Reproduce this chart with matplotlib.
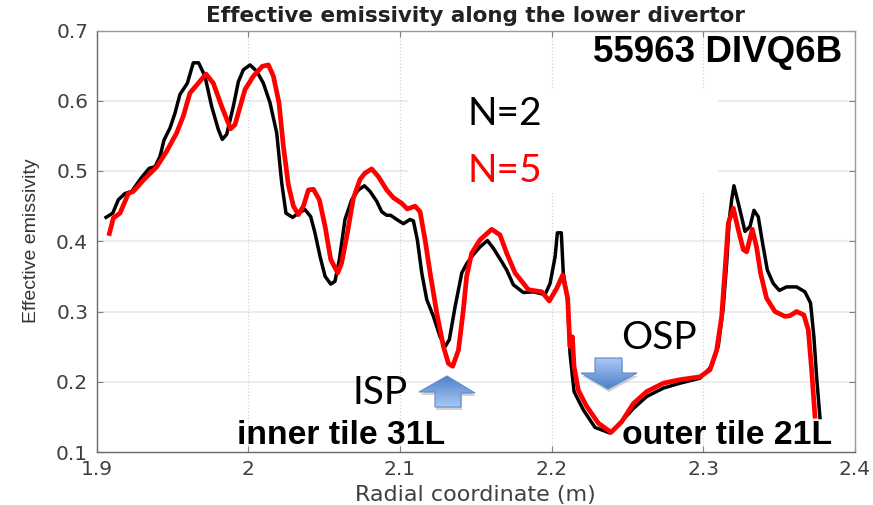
import matplotlib
matplotlib.use('Agg')
import matplotlib.pyplot as plt
from matplotlib.patches import Polygon, Rectangle
from matplotlib.transforms import Affine2D
import numpy as np

# N=2 curve
x_n2 = [1.9063, 1.9107, 1.9144, 1.9188, 1.9232, 1.9298, 1.9348, 1.9386, 1.9419, 1.9445, 1.9484,
        1.9517, 1.955, 1.9599, 1.9638, 1.9673, 1.9715, 1.9759, 1.9803, 1.9829, 1.9858, 1.9902,
        1.9935, 1.9968, 2.0012, 2.0056, 2.01, 2.0144, 2.0188, 2.0221, 2.0249, 2.0293, 2.0337,
        2.0375, 2.0412, 2.044, 2.0474, 2.0507, 2.0544, 2.0572, 2.0601, 2.0638, 2.0682, 2.0726,
        2.0766, 2.0803, 2.0847, 2.088, 2.0913, 2.0939, 2.0979, 2.1023, 2.1067, 2.1089, 2.1115,
        2.1144, 2.1177, 2.1221, 2.1265, 2.1298, 2.1326, 2.1364, 2.1408, 2.144, 2.1484, 2.1528,
        2.1577, 2.1616, 2.1671, 2.1704, 2.1748, 2.1814, 2.188, 2.1957, 2.199, 2.2023, 2.2038,
        2.2064, 2.2077, 2.2105, 2.2121, 2.2148, 2.2209, 2.2286, 2.2385, 2.2451, 2.2539, 2.2627,
        2.2737, 2.2847, 2.2978, 2.3055, 2.3099, 2.3132, 2.3154, 2.3171, 2.3187, 2.3202, 2.3231,
        2.3275, 2.3308, 2.3334, 2.3362, 2.3391, 2.3422, 2.3461, 2.3501, 2.3549, 2.3615, 2.367,
        2.3707, 2.3729, 2.3747, 2.3769]
y_n2 = [.434, .440, .459, .468, .471, .491, .504, .506, .521, .544, .561,
        .582, .609, .625, .654, .654, .635, .592, .559, .545, .552, .592,
        .627, .644, .651, .642, .625, .597, .554, .483, .440, .434, .441,
        .445, .435, .412, .378, .350, .339, .343, .374, .431, .459, .473,
        .479, .471, .457, .442, .437, .437, .431, .425, .431, .429, .402,
        .355, .317, .293, .264, .250, .260, .307, .355, .368, .381, .392,
        .401, .390, .371, .359, .338, .327, .328, .324, .340, .378, .412,
        .412, .355, .317, .241, .186, .160, .135, .127, .141, .162, .179,
        .191, .198, .205, .222, .251, .307, .369, .430, .459, .479, .454,
        .414, .421, .444, .435, .397, .359, .340, .330, .335, .335, .328,
        .312, .264, .207, .149]

# N=5 curve
x_n5 = [1.9085, 1.9111, 1.9155, 1.921, 1.9243, 1.9309, 1.9397, 1.9462, 1.9528, 1.9572, 1.9616,
        1.9671, 1.9722, 1.977, 1.9825, 1.9884, 1.9913, 1.9979, 2.0034, 2.0093, 2.0133, 2.0166,
        2.0203, 2.0232, 2.0265, 2.0298, 2.0331, 2.0364, 2.0397, 2.043, 2.0469, 2.0507, 2.0544,
        2.059, 2.0616, 2.0654, 2.0693, 2.0737, 2.077, 2.0814, 2.0858, 2.0913, 2.0957, 2.1012,
        2.1049, 2.11, 2.1133, 2.1166, 2.1199, 2.1243, 2.1287, 2.132, 2.1348, 2.1386, 2.1418,
        2.144, 2.1473, 2.1528, 2.1605, 2.166, 2.1704, 2.1759, 2.1847, 2.1935, 2.1985, 2.2034,
        2.2073, 2.2106, 2.2121, 2.2137, 2.2148, 2.2176, 2.2231, 2.2308, 2.2392, 2.2462, 2.2539,
        2.2627, 2.2737, 2.2847, 2.2978, 2.3044, 2.3088, 2.3121, 2.3143, 2.3165, 2.3198, 2.3231,
        2.3264, 2.3286, 2.3323, 2.3351, 2.3378, 2.3417, 2.3472, 2.3538, 2.3571, 2.3615, 2.3663,
        2.3692, 2.3714, 2.3736]
y_n5 = [.411, .433, .440, .468, .471, .487, .506, .528, .554, .578, .611,
        .625, .638, .625, .592, .560, .566, .616, .635, .649, .651, .635,
        .597, .535, .480, .450, .438, .450, .473, .474, .459, .421, .374,
        .355, .369, .412, .461, .488, .497, .503, .492, .473, .462, .454,
        .446, .450, .442, .402, .355, .298, .250, .226, .222, .245, .302,
        .350, .383, .402, .417, .409, .383, .355, .331, .328, .315, .333,
        .352, .319, .250, .264, .222, .188, .165, .141, .128, .143, .169,
        .186, .198, .203, .207, .217, .245, .293, .359, .426, .447, .416,
        .388, .385, .417, .392, .354, .319, .300, .293, .294, .300, .295,
        .274, .217, .151]

x_ticks = [1.9, 2.0, 2.1, 2.2, 2.3, 2.4]
x_tick_labels = ['1.9', '2', '2.1', '2.2', '2.3', '2.4']
y_ticks = [0.1, 0.2, 0.3, 0.4, 0.5, 0.6, 0.7]

W, H = 873, 505
fig = plt.figure(figsize=(W / 100, H / 100), dpi=100)
ax = fig.add_axes([96.5 / W, 1 - 452 / H, (855 - 96.5) / W, (452 - 30.5) / H])

# reference pixels -> figure, for the slide overlays
px = Affine2D().scale(1 / W, -1 / H).translate(0, 1) + fig.transFigure

ax.grid(False)
ax.hlines(y_ticks[1:-1], 1.9, 2.4, color='#ececec', lw=1.5, zorder=1)
ax.vlines(x_ticks[1:-1], 0.1, 0.7, color='#d4d4d4', lw=0.9, ls=':', zorder=1)

# white box pasted over the grid behind the N labels
ax.add_patch(Rectangle((408, 90), 310, 101, transform=px, fc='white', ec='none', zorder=1.5))

ax.plot(x_n2, y_n2, color='black', lw=2.5, solid_joinstyle='round', zorder=3)
ax.plot(x_n5, y_n5, color='#ff0000', lw=3.4, solid_joinstyle='round', zorder=4)


def block_arrow(points, x0, x1, y0, y1, reverse=False):
    shadow = [(a + 1, b + 3) for a, b in points]
    ax.add_patch(Polygon(shadow, transform=px, fc='#9a9a9a', ec='none', alpha=0.45, zorder=5))
    grad = np.linspace(0, 1, 64).reshape(-1, 1)
    if reverse:
        grad = grad[::-1]
    cmap = matplotlib.colors.LinearSegmentedColormap.from_list('blk', ['#4f81c8', '#a9c8f5'])
    im = ax.imshow(grad, cmap=cmap, extent=(x0, x1, y1, y0), transform=px, aspect='auto', zorder=6)
    edge = Polygon(points, transform=px, fc='none', ec='#5b8bc9', lw=0.8, zorder=7)
    ax.add_patch(edge)
    im.set_clip_path(edge)


# ISP, OSP arrows
block_arrow([(447, 376), (475, 393), (461, 393), (461, 407), (435, 407), (435, 392), (419, 392)],
            419, 475, 376, 407)
block_arrow([(595, 358), (622, 358), (622, 373), (637, 373), (608, 389), (581, 373), (595, 373)],
            581, 637, 358, 389, reverse=True)

ax.set_xlim(1.9, 2.4)
ax.set_ylim(0.1, 0.7)
ax.set_xticks(x_ticks)
ax.set_xticklabels(x_tick_labels)
ax.set_yticks(y_ticks)
ax.tick_params(direction='in', length=4, width=0.8, color='#808080', top=True, right=True,
               labelsize=14.5, labelcolor='#404040', pad=6)
for lab in ax.get_xticklabels() + ax.get_yticklabels():
    lab.set_family('DejaVu Sans')
for side in ['top', 'right']:
    ax.spines[side].set_color('#9a9a9a')
for side in ['left', 'bottom']:
    ax.spines[side].set_color('#6a6a6a')
for side in ax.spines:
    ax.spines[side].set_linewidth(1.0)

fig.text(476 / W, 1 - 16 / H, 'Effective emissivity along the lower divertor', ha='center', va='center',
         family='DejaVu Sans', weight='bold', fontsize=15.5, color='#222222')
fig.text(475 / W, 1 - 495 / H, 'Radial coordinate (m)', ha='center', va='center',
         family='DejaVu Sans', fontsize=16, color='#404040')
fig.text(32 / W, 1 - 241 / H, 'Effective emissivity', ha='center', va='center', rotation=90,
         family=['Liberation Sans Narrow', 'Liberation Sans'], fontsize=14, color='#333333')

fig.text(842 / W, 1 - 53 / H, '55963 DIVQ6B', ha='right', va='center',
         family='Liberation Sans', weight='bold', fontsize=26.5, color='black')
fig.text(542 / W, 1 - 114 / H, 'N=2', ha='right', va='center', family='Lato', fontsize=28, color='black')
fig.text(542 / W, 1 - 171 / H, 'N=5', ha='right', va='center', family='Lato', fontsize=28, color='#ff0000')
fig.text(353 / W, 1 - 393 / H, 'ISP', ha='left', va='center', family='Lato', fontsize=28, color='black')
fig.text(621 / W, 1 - 338 / H, 'OSP', ha='left', va='center', family='Lato', fontsize=28, color='black')
fig.text(237 / W, 1 - 435 / H, 'inner tile 31L', ha='left', va='center',
         family='Liberation Sans', weight='bold', fontsize=24.3, color='black')
fig.text(622 / W, 1 - 436 / H, 'outer tile 21L', ha='left', va='center',
         family='Liberation Sans', weight='bold', fontsize=24.3, color='black')

fig.savefig('out.png', dpi=100)
